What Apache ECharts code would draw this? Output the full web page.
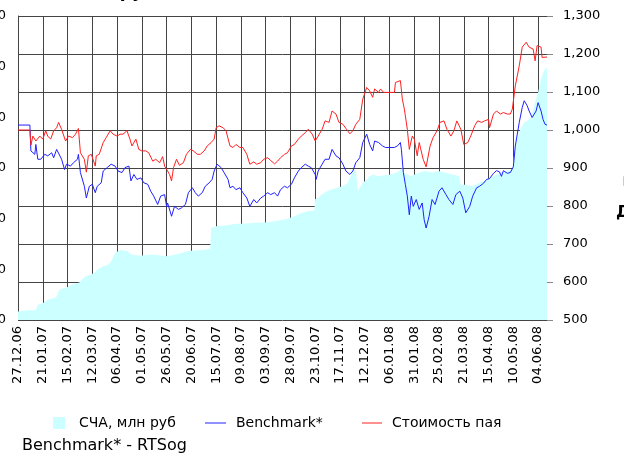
<!DOCTYPE html>
<html>
<head>
    <meta charset="utf-8">
    <title>СЧА и стоимость пая</title>
    <script src="https://cdn.jsdelivr.net/npm/echarts@6/dist/echarts.min.js"></script>
    <style>
        html, body { margin: 0; padding: 0; background: #fff; }
        #chart { width: 624px; height: 456px; }
    </style>
</head>
<body>
<div id="chart"></div>
<script>
// ось дат: ежедневно с 27.12.06, подписи каждые 25 дней
const startDate = [2006, 11, 27];
const dayCount = 535;

// правая ось (пай, бенчмарк) и левая ось (СЧА)
const rightTicks = [500, 600, 700, 800, 900, 1000, 1100, 1200, 1300];
const leftTicks = [0, 100, 200, 300, 400, 500, 600];

// [индекс дня, значение]
const navData = [
    [0, 17], [10, 19], [18, 19], [20, 30], [25, 33], [30, 40], [36, 43], [39, 46], [42, 60], [48, 63],
    [51, 66], [56, 71], [62, 74], [65, 81], [68, 86], [72, 89], [77, 93], [80, 99], [86, 106], [91, 109],
    [94, 116], [98, 132], [103, 138], [110, 136], [115, 129], [124, 127], [131, 129], [138, 129], [145, 127],
    [151, 126], [158, 129], [165, 132], [172, 136], [179, 137], [186, 138], [194, 140], [195, 182], [200, 185],
    [207, 186], [214, 188], [220, 190], [227, 190], [238, 192], [245, 192], [252, 193], [259, 195], [265, 197],
    [272, 200], [279, 205], [286, 211], [293, 215], [299, 215], [300, 239], [303, 241], [307, 248], [312, 254],
    [317, 258], [322, 261], [328, 264], [333, 271], [336, 284], [338, 294], [341, 297], [343, 254], [345, 261],
    [348, 271], [352, 277], [355, 284], [359, 287], [362, 284], [369, 285], [376, 287], [381, 290], [385, 294],
    [386, 297], [388, 300], [390, 290], [393, 287], [397, 284], [404, 290], [411, 294], [418, 291], [424, 294],
    [431, 291], [438, 287], [445, 284], [447, 267], [452, 267], [459, 264], [466, 271], [473, 277], [480, 284],
    [487, 291], [494, 294], [499, 297], [501, 330], [504, 357], [507, 376], [511, 390], [514, 393], [518, 400],
    [521, 423], [525, 449], [528, 476], [531, 492], [534, 499]
];

const benchData = [
    [0, 1013], [12, 1013], [13, 945], [15, 940], [17, 936], [18, 962], [20, 923], [23, 923], [27, 936], [30, 932],
    [34, 940], [36, 927], [39, 949], [41, 954], [44, 923], [47, 896], [49, 910], [53, 905], [56, 914], [60, 923],
    [61, 936], [63, 888], [67, 852], [69, 821], [72, 852], [75, 857], [78, 835], [80, 852], [84, 861], [86, 892],
    [90, 901], [94, 910], [98, 905], [101, 892], [105, 888], [108, 901], [112, 905], [114, 866], [117, 883],
    [120, 870], [124, 874], [127, 861], [131, 857], [134, 839], [137, 826], [141, 804], [144, 826], [148, 830],
    [150, 799], [151, 808], [155, 773], [158, 799], [162, 791], [165, 795], [169, 804], [172, 835], [176, 848],
    [179, 835], [182, 826], [186, 835], [189, 852], [193, 861], [196, 870], [198, 892], [201, 910], [205, 901],
    [208, 888], [212, 870], [214, 848], [217, 852], [220, 843], [224, 848], [227, 835], [231, 821], [234, 799],
    [238, 817], [241, 808], [245, 821], [248, 826], [252, 835], [255, 830], [259, 835], [262, 826], [265, 843],
    [269, 852], [272, 848], [276, 857], [279, 874], [283, 892], [286, 901], [290, 910], [293, 905], [296, 901],
    [300, 883], [301, 870], [303, 892], [307, 910], [310, 923], [314, 923], [317, 949], [321, 932], [324, 927],
    [328, 910], [331, 892], [335, 883], [338, 892], [341, 914], [345, 927], [348, 967], [352, 989], [355, 962],
    [358, 945], [360, 971], [364, 967], [368, 958], [371, 954], [375, 954], [380, 954], [383, 958], [386, 967],
    [387, 949], [389, 888], [391, 857], [393, 826], [395, 777], [397, 826], [399, 799], [402, 817], [405, 791],
    [408, 808], [410, 764], [412, 742], [415, 773], [418, 817], [421, 804], [425, 839], [428, 848], [432, 830],
    [435, 817], [439, 804], [442, 830], [446, 839], [449, 821], [452, 782], [456, 799], [459, 826], [463, 848],
    [466, 852], [470, 860], [473, 870], [476, 872], [480, 886], [483, 893], [486, 890], [488, 878], [490, 893],
    [494, 886], [497, 888], [500, 903], [502, 958], [506, 1020], [509, 1059], [511, 1077], [514, 1064],
    [516, 1050], [519, 1033], [521, 1028], [523, 1050], [525, 1072], [527, 1068], [528, 1050], [530, 1028],
    [532, 1015], [534, 1013]
];

const priceData = [
    [0, 1000], [12, 1000], [13, 960], [15, 984], [18, 971], [22, 984], [25, 976], [28, 998], [30, 984], [33, 976],
    [36, 998], [39, 1006], [41, 1020], [44, 1002], [48, 971], [51, 984], [55, 980], [58, 989], [61, 1004], [63, 940],
    [67, 923], [69, 889], [71, 932], [74, 936], [76, 940], [78, 905], [79, 932], [82, 936], [86, 967], [89, 980],
    [93, 998], [96, 989], [100, 984], [103, 989], [106, 989], [110, 998], [113, 976], [115, 958], [119, 976],
    [122, 949], [125, 945], [129, 945], [132, 940], [136, 918], [139, 923], [143, 914], [146, 930], [148, 905],
    [151, 892], [153, 883], [155, 866], [157, 901], [160, 923], [163, 907], [167, 914], [170, 936], [174, 949],
    [177, 945], [181, 936], [184, 936], [188, 945], [191, 958], [195, 967], [198, 976], [200, 1006], [203, 1011],
    [207, 1006], [210, 998], [214, 958], [217, 954], [220, 962], [224, 954], [227, 954], [231, 936], [234, 910],
    [238, 916], [241, 910], [245, 914], [248, 923], [252, 927], [255, 920], [259, 911], [262, 918], [265, 927],
    [269, 936], [272, 940], [276, 958], [279, 962], [283, 976], [286, 984], [290, 993], [293, 1002], [297, 989],
    [300, 971], [303, 984], [307, 1002], [310, 1024], [314, 1020], [317, 1050], [321, 1042], [324, 1020],
    [328, 1015], [331, 1004], [335, 990], [338, 998], [341, 1015], [345, 1028], [348, 1081], [352, 1112],
    [355, 1103], [358, 1086], [360, 1108], [364, 1099], [366, 1108], [369, 1099], [373, 1099], [380, 1099],
    [381, 1125], [383, 1121], [386, 1130], [388, 1081], [390, 1055], [393, 1002], [395, 949], [398, 984],
    [400, 976], [403, 932], [405, 967], [409, 923], [412, 903], [416, 958], [419, 980], [423, 998], [426, 1020],
    [430, 1024], [433, 1002], [437, 984], [440, 998], [443, 1024], [447, 1002], [450, 962], [454, 967],
    [457, 984], [461, 1011], [464, 1024], [468, 1020], [471, 1024], [475, 1028], [476, 1006], [480, 1042],
    [483, 1050], [487, 1042], [490, 1046], [494, 1042], [497, 1042], [499, 1055], [502, 1116], [506, 1169],
    [509, 1218], [513, 1231], [516, 1218], [520, 1213], [522, 1182], [524, 1222], [528, 1218], [529, 1191],
    [531, 1196], [534, 1192]
];

function pad(n) { return n < 10 ? '0' + n : '' + n; }
const categories = [];
for (let i = 0; i < dayCount; i++) {
    const d = new Date(startDate[0], startDate[1], startDate[2] + i);
    categories.push(pad(d.getDate()) + '.' + pad(d.getMonth() + 1) + '.' + pad(d.getFullYear() % 100));
}

const font = 'DejaVu Sans';
const gridColor = '#444';

const chart = echarts.init(document.getElementById('chart'));
chart.setOption({
    animation: false,
    backgroundColor: '#fff',
    textStyle: { fontFamily: font },
    grid: { left: 18, right: 77, top: 16, bottom: 136, containLabel: false, outerBoundsMode: 'none' },
    legend: [
        {
            data: [{ name: 'СЧА, млн руб', icon: 'rect' }],
            left: 53, top: 416, padding: 0,
            itemWidth: 12, itemHeight: 12,
            textStyle: { fontSize: 14, color: '#000', fontFamily: font, padding: [0, 0, 0, 9] }
        },
        {
            data: [{ name: 'Benchmark*', icon: 'rect' }],
            left: 205, top: 416, padding: 0,
            itemWidth: 21, itemHeight: 1,
            textStyle: { fontSize: 14, color: '#000', fontFamily: font, padding: [0, 0, 0, 5] }
        },
        {
            data: [{ name: 'Стоимость пая', icon: 'rect' }],
            left: 362, top: 416, padding: 0,
            itemWidth: 20, itemHeight: 1,
            textStyle: { fontSize: 14, color: '#000', fontFamily: font, padding: [0, 0, 0, 5] }
        }
    ],
    xAxis: {
        type: 'category',
        boundaryGap: false,
        data: categories,
        axisLine: { show: false },
        axisTick: { show: false, interval: 24 },
        axisLabel: { interval: 24, rotate: 90, margin: 6, fontSize: 13, color: '#000', fontFamily: font },
        splitLine: { show: true, interval: 24, lineStyle: { color: gridColor, width: 1 } }
    },
    yAxis: [
        {
            type: 'value',
            position: 'left',
            min: leftTicks[0],
            max: leftTicks[leftTicks.length - 1],
            interval: leftTicks[1] - leftTicks[0],
            axisLine: { show: true, lineStyle: { color: gridColor } },
            axisTick: { show: false },
            axisLabel: { margin: 12, fontSize: 13, color: '#000', fontFamily: font },
            splitLine: { show: false }
        },
        {
            type: 'value',
            position: 'right',
            min: rightTicks[0],
            max: rightTicks[rightTicks.length - 1],
            interval: rightTicks[1] - rightTicks[0],
            axisLine: { show: false },
            axisTick: { show: true, length: 6, lineStyle: { color: '#888' } },
            axisLabel: {
                margin: 16, fontSize: 13, color: '#000', fontFamily: font,
                formatter: v => v >= 1000 ? Math.floor(v / 1000) + ',' + String(v % 1000).padStart(3, '0') : String(v)
            },
            splitLine: { show: true, lineStyle: { color: gridColor, width: 1 } }
        }
    ],
    graphic: [
        {
            type: 'text', left: 24, top: -16,
            style: { text: 'СЧА, млн руб', font: 'bold 17px "DejaVu Sans"', fill: '#000' }
        },
        {
            type: 'text', left: 616, top: 205,
            style: { text: 'Д', font: 'bold 16px "DejaVu Sans"', fill: '#000' }
        },
        {
            type: 'rect', left: 621, top: 174,
            shape: { width: 10, height: 9 },
            style: { fill: 'none', stroke: '#ccc', lineWidth: 1 }
        },
        {
            type: 'text', left: 22, top: 438,
            style: { text: 'Benchmark* - RTSog', font: '16px "DejaVu Sans"', fill: '#000' }
        }
    ],
    series: [
        {
            name: 'СЧА, млн руб',
            type: 'line',
            yAxisIndex: 0,
            data: navData,
            symbol: 'none',
            lineStyle: { width: 0 },
            itemStyle: { color: '#CCFFFF' },
            areaStyle: { color: '#CCFFFF', opacity: 1 },
            z: 1
        },
        {
            name: 'Benchmark*',
            type: 'line',
            yAxisIndex: 1,
            data: benchData,
            symbol: 'none',
            lineStyle: { width: 1, color: '#2020FF' },
            itemStyle: { color: '#2020FF' },
            z: 3
        },
        {
            name: 'Стоимость пая',
            type: 'line',
            yAxisIndex: 1,
            data: priceData,
            symbol: 'none',
            lineStyle: { width: 1, color: '#FF2020' },
            itemStyle: { color: '#FF2020' },
            z: 4
        }
    ]
});
</script>
</body>
</html>
